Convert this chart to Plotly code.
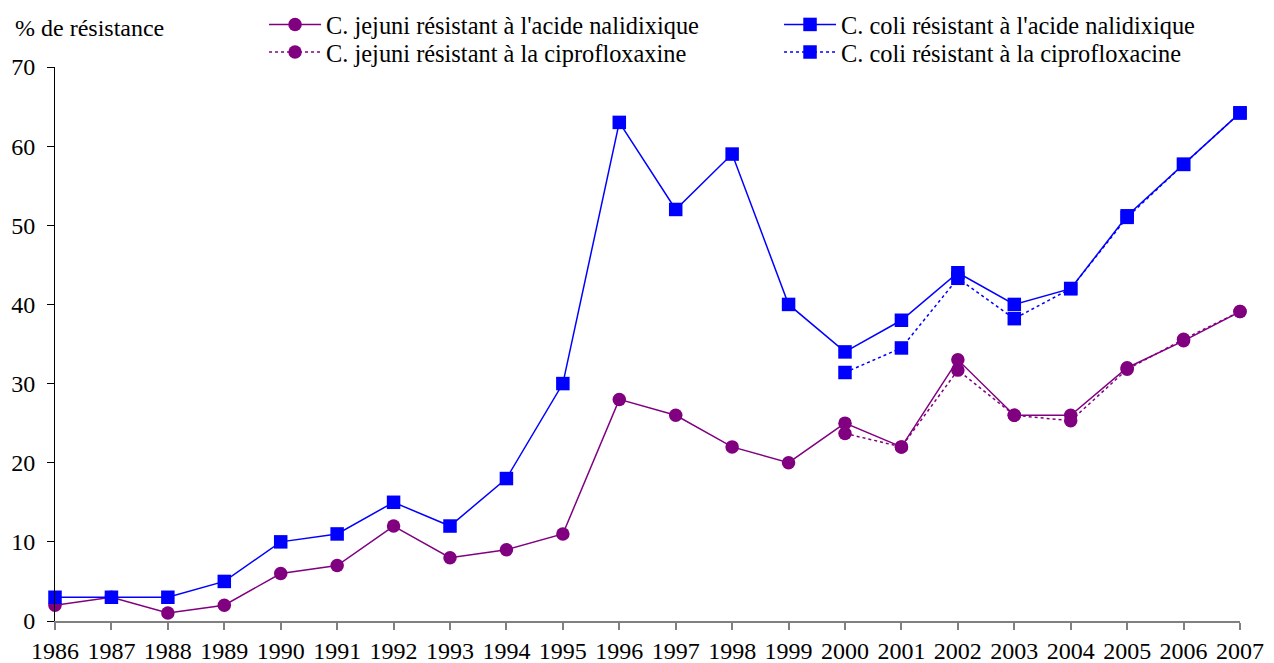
import plotly.graph_objects as go

years = list(range(1986, 2008))
jejuni_nal = [2, 3, 1, 2, 6, 7, 12, 8, 9, 11, 28, 26, 22, 20, 25, 22, 33, 26, 26, 32, 35.4, 39.1]
coli_nal = [3, 3, 3, 5, 10, 11, 15, 12, 18, 30, 63, 52, 59, 40, 34, 38, 44, 40, 42, 51.2, 57.7, 64.2]
years_cipro = list(range(2000, 2008))
jejuni_cipro = [23.7, 22, 31.7, 26, 25.3, 31.8, 35.6, 39.1]
coli_cipro = [31.4, 34.5, 43.3, 38.2, 42, 51, 57.7, 64.2]

names = [
    "C. jejuni résistant à l'acide nalidixique",
    "C. coli résistant à l'acide nalidixique",
    "C. jejuni résistant à la ciprofloxaxine",
    "C. coli résistant à la ciprofloxacine",
]
y_ticks = [0, 10, 20, 30, 40, 50, 60, 70]

PURPLE = "#800080"
BLUE = "#0000FF"
FONT = "Liberation Serif"

fig = go.Figure()
fig.add_trace(go.Scatter(x=years_cipro, y=jejuni_cipro, name=names[2], mode="lines+markers",
                         line=dict(color=PURPLE, width=1.5, dash="dot"),
                         marker=dict(symbol="circle", size=13.5, color=PURPLE), cliponaxis=False,
                         legend="legend2", legendrank=1))
fig.add_trace(go.Scatter(x=years, y=jejuni_nal, name=names[0], mode="lines+markers",
                         line=dict(color=PURPLE, width=1.5),
                         marker=dict(symbol="circle", size=13.5, color=PURPLE), cliponaxis=False,
                         legend="legend", legendrank=1))
fig.add_trace(go.Scatter(x=years_cipro, y=coli_cipro, name=names[3], mode="lines+markers",
                         line=dict(color=BLUE, width=1.5, dash="dot"),
                         marker=dict(symbol="square", size=13.5, color=BLUE), cliponaxis=False,
                         legend="legend2", legendrank=2))
fig.add_trace(go.Scatter(x=years, y=coli_nal, name=names[1], mode="lines+markers",
                         line=dict(color=BLUE, width=1.5),
                         marker=dict(symbol="square", size=13.5, color=BLUE), cliponaxis=False,
                         legend="legend", legendrank=2))

leg_common = dict(orientation="h", xanchor="left", yanchor="top",
                  entrywidth=448, entrywidthmode="pixels",
                  font=dict(family=FONT, size=24.4, color="black"), bgcolor="rgba(0,0,0,0)",
                  itemwidth=52)

fig.update_layout(
    width=1266, height=655,
    margin=dict(l=47, r=34, t=59, b=42, autoexpand=False),
    paper_bgcolor="white", plot_bgcolor="white",
    font=dict(family=FONT, size=24, color="black"),
    showlegend=True,
    legend=dict(x=0.1764, y=1.1172, **leg_common),
    legend2=dict(x=0.1764, y=1.0673, **leg_common),
    xaxis=dict(range=[1986, 2007], tickmode="array", tickvals=years, ticktext=[str(y) for y in years],
               showgrid=False, zeroline=False, showline=True, linecolor="#808080", linewidth=1.5,
               ticks="outside", ticklen=7, tickcolor="#808080", tickwidth=1.5,
               tickfont=dict(family=FONT, size=24)),
    yaxis=dict(range=[0, 70], tickmode="array", tickvals=y_ticks,
               showgrid=False, zeroline=False, showline=True, linecolor="black", linewidth=1,
               ticks="outside", ticklen=7, tickcolor="black", ticklabelstandoff=7,
               tickfont=dict(family=FONT, size=24)),
    annotations=[dict(text="% de résistance", xref="paper", yref="paper", x=-0.0354, y=1.0704,
                      xanchor="left", yanchor="middle", showarrow=False,
                      font=dict(family=FONT, size=24))],
)

fig.write_html("out.html")
